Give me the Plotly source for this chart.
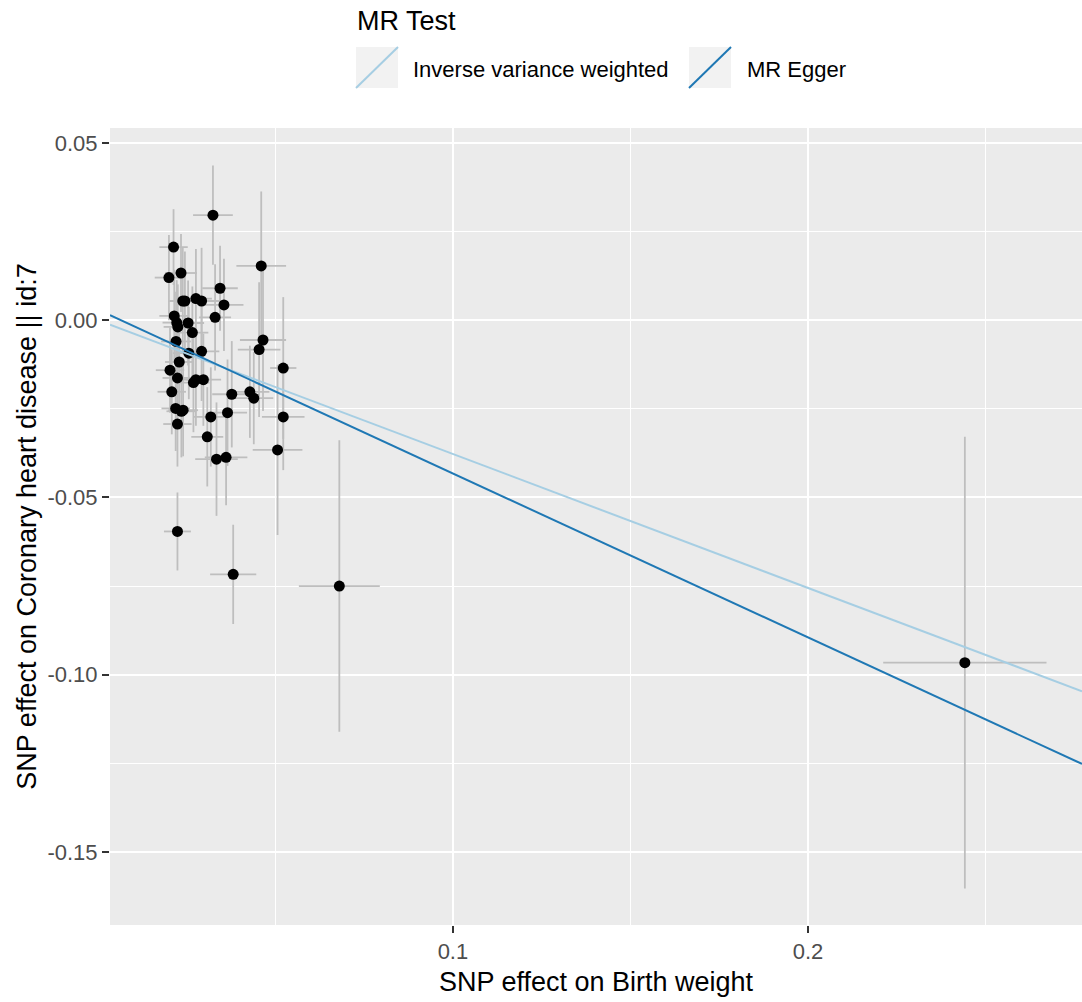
import plotly.graph_objects as go

# SNP effects on exposure (Birth weight) and outcome (Coronary heart disease)
beta_exp = [0.0324, 0.0213, 0.0200, 0.0234, 0.0460, 0.0344, 0.0355, 0.0330,
            0.0239, 0.0245, 0.0276, 0.0292, 0.0215, 0.0222, 0.0254, 0.0225,
            0.0266, 0.0220, 0.0256, 0.0292, 0.0465, 0.0454, 0.0522, 0.0229,
            0.0203, 0.0224, 0.0269, 0.0276, 0.0297, 0.0208, 0.0377, 0.0428,
            0.0439, 0.0219, 0.0235, 0.0240, 0.0318, 0.0365, 0.0522, 0.0224,
            0.0308, 0.0506, 0.0334, 0.0361, 0.0224, 0.0381, 0.0680, 0.2442]
beta_out = [0.0296, 0.0206, 0.0120, 0.0133, 0.0153, 0.0090, 0.0043, 0.0008,
            0.0054, 0.0054, 0.0061, 0.0054, 0.0012, -0.0007, -0.0008, -0.0019,
            -0.0035, -0.0060, -0.0093, -0.0088, -0.0056, -0.0083, -0.0135, -0.0118,
            -0.0141, -0.0163, -0.0176, -0.0168, -0.0168, -0.0202, -0.0209, -0.0202,
            -0.0220, -0.0249, -0.0257, -0.0254, -0.0273, -0.0261, -0.0273, -0.0293,
            -0.0329, -0.0366, -0.0392, -0.0387, -0.0596, -0.0717, -0.0750, -0.0966]
se_exp = [0.0056, 0.0040, 0.0040, 0.0045, 0.0070, 0.0050, 0.0055, 0.0045,
          0.0040, 0.0042, 0.0045, 0.0050, 0.0042, 0.0040, 0.0045, 0.0040,
          0.0045, 0.0042, 0.0045, 0.0050, 0.0065, 0.0060, 0.0037, 0.0040,
          0.0040, 0.0042, 0.0045, 0.0045, 0.0050, 0.0040, 0.0055, 0.0055,
          0.0055, 0.0040, 0.0042, 0.0042, 0.0050, 0.0055, 0.0060, 0.0040,
          0.0045, 0.0070, 0.0060, 0.0060, 0.0038, 0.0065, 0.0114, 0.0230]
se_out = [0.0140, 0.0107, 0.0120, 0.0110, 0.0210, 0.0120, 0.0130, 0.0150,
          0.0150, 0.0140, 0.0140, 0.0150, 0.0130, 0.0120, 0.0120, 0.0120,
          0.0130, 0.0140, 0.0130, 0.0140, 0.0200, 0.0190, 0.0200, 0.0130,
          0.0120, 0.0130, 0.0140, 0.0130, 0.0130, 0.0120, 0.0150, 0.0130,
          0.0130, 0.0120, 0.0130, 0.0130, 0.0140, 0.0150, 0.0150, 0.0120,
          0.0140, 0.0240, 0.0160, 0.0135, 0.0110, 0.0140, 0.0411, 0.0637]

# MR estimates (slope / intercept)
methods = ["Inverse variance weighted", "MR Egger"]
slopes = [-0.3776, -0.4624]
intercepts = [0.0, 0.0030]
line_colors = ["#a6cee3", "#1f78b4"]
legend_title = "MR Test"

x_range = [0.0034, 0.2772]
y_range = [-0.1706, 0.0542]
x_ticks = [0.1, 0.2]
x_ticklabels = ["0.1", "0.2"]
x_minor = [0.05, 0.15, 0.25]
y_ticks = [0.05, 0.0, -0.05, -0.10, -0.15]
y_ticklabels = ["0.05", "0.00", "-0.05", "-0.10", "-0.15"]
y_minor = [0.025, -0.025, -0.075, -0.125]

FONT = "Liberation Sans, Arial, sans-serif"
W, H = 1082, 1002
ML, MR, MT, MB = 110, 0, 128, 77
PW, PH = W - ML - MR, H - MT - MB


def px(xp):
    return (xp - ML) / PW


def py(yp):
    return (H - MB - yp) / PH


fig = go.Figure()

# error bars (drawn beneath all points)
fig.add_trace(go.Scatter(
    x=beta_exp, y=beta_out, mode="markers",
    marker=dict(size=1, color="rgba(0,0,0,0)"),
    error_x=dict(type="data", array=se_exp, symmetric=True, color="#bebebe", thickness=1.8, width=0),
    error_y=dict(type="data", array=se_out, symmetric=True, color="#bebebe", thickness=1.8, width=0),
    showlegend=False, hoverinfo="skip"))

fig.add_trace(go.Scatter(
    x=beta_exp, y=beta_out, mode="markers",
    marker=dict(size=11, color="black"),
    showlegend=False))

for name, b, a, c in zip(methods, slopes, intercepts, line_colors):
    xs = [x_range[0], x_range[1]]
    ys = [a + b * xv for xv in xs]
    fig.add_trace(go.Scatter(x=xs, y=ys, mode="lines", name=name,
                             line=dict(color=c, width=2), showlegend=False))

# ggplot-style legend on top: title, grey key boxes with diagonal lines, labels
shapes = []
annotations = [dict(text=legend_title, xref="paper", yref="paper", x=px(355), y=py(21),
                    xanchor="left", yanchor="middle", showarrow=False,
                    font=dict(family=FONT, size=27, color="black"))]
key_left = [356, 689]
label_left = [411, 745]
for kl, ll, name, c in zip(key_left, label_left, methods, line_colors):
    shapes.append(dict(type="rect", xref="paper", yref="paper",
                       x0=px(kl), x1=px(kl + 42), y0=py(88), y1=py(47),
                       fillcolor="#f2f2f2", line=dict(width=0), layer="above"))
    shapes.append(dict(type="line", xref="paper", yref="paper",
                       x0=px(kl), x1=px(kl + 42), y0=py(88), y1=py(47),
                       line=dict(color=c, width=2), layer="above"))
    annotations.append(dict(text=name, xref="paper", yref="paper", x=px(ll), y=py(70),
                            xanchor="left", yanchor="middle", showarrow=False,
                            font=dict(family=FONT, size=22, color="black")))

tick_font = dict(family=FONT, size=22, color="#4d4d4d")
title_font = dict(family=FONT, size=27, color="black")

fig.update_layout(
    width=W, height=H,
    margin=dict(l=ML, r=MR, t=MT, b=MB, autoexpand=False),
    paper_bgcolor="white", plot_bgcolor="#ebebeb",
    font=dict(family=FONT, color="black"),
    showlegend=False,
    shapes=shapes, annotations=annotations,
    xaxis=dict(
        range=x_range, tickvals=x_ticks, ticktext=x_ticklabels,
        showgrid=True, gridcolor="white", gridwidth=2,
        minor=dict(tickvals=x_minor, showgrid=True, gridcolor="white", gridwidth=1, ticks=""),
        ticks="outside", ticklen=7, tickcolor="#333333", tickwidth=1.5,
        tickfont=tick_font, zeroline=False, showline=False,
        title=dict(text="SNP effect on Birth weight", font=title_font, standoff=8)),
    yaxis=dict(
        range=y_range, tickvals=y_ticks, ticktext=y_ticklabels,
        showgrid=True, gridcolor="white", gridwidth=2,
        minor=dict(tickvals=y_minor, showgrid=True, gridcolor="white", gridwidth=1, ticks=""),
        ticks="outside", ticklen=7, tickcolor="#333333", tickwidth=1.5,
        tickfont=tick_font, zeroline=False, showline=False,
        title=dict(text="SNP effect on Coronary heart disease || id:7", font=title_font, standoff=2)),
)

fig.write_html("out.html", config={"displayModeBar": False},
               post_script="document.body.style.margin='0px';document.body.style.overflow='hidden';")
